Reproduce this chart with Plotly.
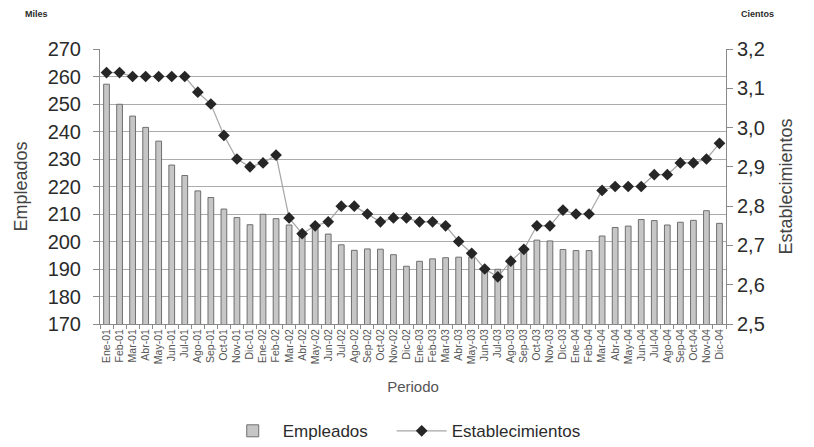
import plotly.graph_objects as go

meses = ['Ene', 'Feb', 'Mar', 'Abr', 'May', 'Jun', 'Jul', 'Ago', 'Sep', 'Oct', 'Nov', 'Dic']
anios = ['01', '02', '03', '04']
periodo = [f'{m}-{a}' for a in anios for m in meses]

# miles
empleados = [
    257.2, 249.9, 245.6, 241.5, 236.5, 227.8, 224.0, 218.4, 216.0, 211.8, 208.7, 206.1,
    209.9, 208.3, 206.0, 203.2, 205.2, 202.7, 198.8, 196.8, 197.3, 197.2, 195.2, 191.0,
    192.8, 193.7, 194.1, 194.3, 194.4, 190.1, 189.9, 192.7, 197.4, 200.5, 200.2, 197.1,
    196.7, 196.7, 202.0, 205.1, 205.6, 208.0, 207.6, 206.0, 207.0, 207.7, 211.2, 206.6,
]

# cientos
establecimientos = [
    3.14, 3.14, 3.13, 3.13, 3.13, 3.13, 3.13, 3.09, 3.06, 2.98, 2.92, 2.90,
    2.91, 2.93, 2.77, 2.73, 2.75, 2.76, 2.80, 2.80, 2.78, 2.76, 2.77, 2.77,
    2.76, 2.76, 2.75, 2.71, 2.68, 2.64, 2.62, 2.66, 2.69, 2.75, 2.75, 2.79,
    2.78, 2.78, 2.84, 2.85, 2.85, 2.85, 2.88, 2.88, 2.91, 2.91, 2.92, 2.96,
]

font_fam = 'Liberation Sans, Arial, sans-serif'
gris_txt = '#2b2b2b'

fig = go.Figure()

# espacios duros para separar las entradas de la leyenda
fig.add_trace(go.Bar(
    x=periodo, y=empleados, name='Empleados' + '\u00a0' * 4,
    marker=dict(color='#c6c6c6', line=dict(color='#6f6f6f', width=1)),
))

fig.add_trace(go.Scatter(
    x=periodo, y=establecimientos, name='Establecimientos', yaxis='y2',
    mode='lines+markers',
    line=dict(color='#a6a6a6', width=1.2),
    marker=dict(symbol='diamond', size=9, color='#262626'),
))

# la pagina deja 8px de margen, el grafico ocupa 806x439
fig.update_layout(
    width=806, height=439,
    margin=dict(l=92, r=88, t=41, b=123, autoexpand=False),
    paper_bgcolor='white', plot_bgcolor='white',
    separators=',.',
    font=dict(family=font_fam, color=gris_txt),
    bargap=0.56,
    showlegend=True,
    legend=dict(
        orientation='h', x=0.486, xanchor='center', y=-0.39, yanchor='middle',
        font=dict(size=17, color=gris_txt), itemwidth=50,
    ),
    xaxis=dict(
        type='category', automargin=False,
        range=[-0.5, len(periodo) - 0.5],
        tickmode='array', tickvals=periodo, ticktext=periodo,
        tickangle=-90,
        tickfont=dict(size=10.5, color='#555555'),
        showline=True, linecolor='#8a8a8a', linewidth=1,
        ticks='outside', tickson='boundaries', ticklen=4, tickcolor='#8a8a8a',
        showgrid=False,
        title=dict(text='Periodo', font=dict(size=15, color='#555555'), standoff=18),
    ),
    yaxis=dict(
        range=[170, 270], dtick=10, automargin=False,
        tickfont=dict(size=20, color=gris_txt), ticklabelstandoff=8,
        showline=True, linecolor='#8a8a8a', linewidth=1,
        ticks='outside', ticklen=6, tickcolor='#8a8a8a',
        showgrid=True, gridcolor='#ababab', gridwidth=1,
        zeroline=False,
        title=dict(text='Empleados', font=dict(size=18, color='#444444')),
    ),
    yaxis2=dict(
        range=[2.5, 3.2], dtick=0.1, tickformat='.1f', automargin=False,
        overlaying='y', side='right',
        tickfont=dict(size=20, color=gris_txt),
        showline=True, linecolor='#8a8a8a', linewidth=1,
        ticks='outside', ticklen=6, tickcolor='#8a8a8a',
        showgrid=False, zeroline=False,
        title=dict(text='Establecimientos', font=dict(size=18, color='#444444')),
    ),
)

fig.add_annotation(text='<b>Miles</b>', xref='paper', yref='paper', x=-0.102, y=1.129,
                   xanchor='center', yanchor='middle', showarrow=False,
                   font=dict(size=9, color=gris_txt))
fig.add_annotation(text='<b>Cientos</b>', xref='paper', yref='paper', x=1.05, y=1.129,
                   xanchor='center', yanchor='middle', showarrow=False,
                   font=dict(size=9, color=gris_txt))

fig.write_html('out.html')
